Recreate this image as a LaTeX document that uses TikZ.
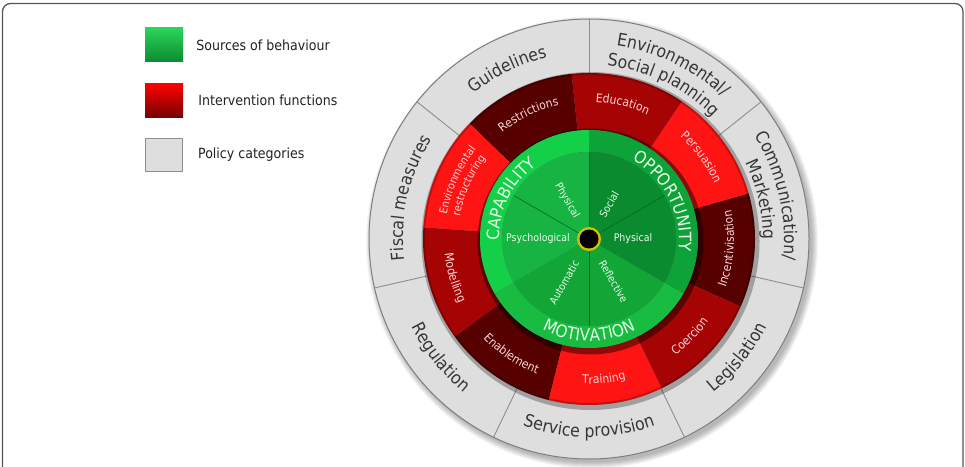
\documentclass[tikz,border=0pt]{standalone}
\usepackage{fontspec}
\setmainfont{DejaVu Sans}[FakeStretch=0.9]
\usepackage{tikz}
\usetikzlibrary{positioning,decorations.text}

\definecolor{gFrame}{HTML}{555555}
\definecolor{polFill}{HTML}{DEDEDE}
\definecolor{polEdge}{HTML}{7E7E7E}
\definecolor{polLine}{HTML}{8E8E8E}
\definecolor{polText}{HTML}{363636}
\definecolor{redBright}{HTML}{FF1414}
\definecolor{redMid}{HTML}{A60404}
\definecolor{redDark}{HTML}{560000}
\definecolor{redText}{HTML}{F6D6D6}
\definecolor{capBand}{HTML}{14CF48}
\definecolor{capIn}{HTML}{17B443}
\definecolor{oppBand}{HTML}{0EA338}
\definecolor{oppIn}{HTML}{0B8B30}
\definecolor{motBand}{HTML}{17BC40}
\definecolor{motIn}{HTML}{12A637}
\definecolor{greenLine}{HTML}{0A6426}
\definecolor{greenText}{HTML}{E8FBE8}
\definecolor{hubRing}{HTML}{D4BF00}
\definecolor{legText}{HTML}{222222}

\newcommand{\polFont}{\fontsize{17.5}{20}\selectfont}
\newcommand{\funFont}{\fontsize{12}{14}\selectfont}
\newcommand{\funFontSm}{\fontsize{11}{13}\selectfont}
\newcommand{\srcFont}{\fontsize{17}{19}\selectfont}
\newcommand{\compFont}{\fontsize{10.5}{12}\selectfont}
\newcommand{\legFont}{\fontsize{14}{16}\selectfont}

% annular sector: colour, start angle, end angle, inner r, outer r
\newcommand{\ringSector}[5]{%
  \fill[fill=#1] (#2:#4) arc[start angle=#2, end angle=#3, radius=#4]
    -- (#3:#5) arc[start angle=#3, end angle=#2, radius=#5] -- cycle;}

% text bent round the hub: centre angle, baseline radius, font, colour, text
% cw = read clockwise (upper half), ccw = read anticlockwise (lower half)
\newcommand{\cwText}[5]{%
  \path[decorate, decoration={text along path, text align=center,
        text color=#4, text={|#3|#5}}]
    ({#1+45}:#2) arc[start angle={#1+45}, end angle={#1-45}, radius=#2];}
\newcommand{\ccwText}[5]{%
  \path[decorate, decoration={text along path, text align=center,
        text color=#4, text={|#3|#5}}]
    ({#1-45}:#2) arc[start angle={#1-45}, end angle={#1+45}, radius=#2];}

\tikzset{
  wheel/.style={x=1pt, y=1pt, line cap=round, line join=round},
  frameLine/.style={draw=gFrame, line width=1.3pt, rounded corners=8pt},
  legendBox/.style={minimum width=38pt, minimum height=34pt, inner sep=0pt},
  legendText/.style={font=\legFont, text=legText, inner sep=0pt},
  polDivider/.style={draw=polLine, line width=0.9pt},
  greenDivider/.style={draw=greenLine, line width=0.6pt},
  compLabel/.style={font=\compFont, text=greenText, inner sep=0pt},
}

\begin{document}
\begin{tikzpicture}[wheel]

\useasboundingbox (0,0) rectangle (965,466);
\path[clip] (0,0) rectangle (965,466);
\fill[white] (0,0) rectangle (965,466);

% outer frame -- its bottom edge runs off the page
\draw[frameLine] (2.5,-20) rectangle (963,462.5);

% ============================================================
% LEGEND
% ============================================================
\node[legendBox, top color=capBand!90!white, bottom color=oppIn]
  (srcBox) at (164,421) {};
\node[legendText, right=13pt of srcBox] (srcText) {Sources of behaviour};

\node[legendBox, top color=red, bottom color=redMid!70!black]
  (funBox) at (164,365.5) {};
\node[legendText, right=15pt of funBox] (funText) {Intervention functions};

\node[legendBox, fill=polFill, draw=polLine, line width=0.8pt,
      minimum width=37pt, minimum height=33pt]
  (polBox) at (164,311) {};
\node[legendText, right=15pt of polBox] (polText) {Policy categories};

% ============================================================
% WHEEL -- centred on the hub
% ============================================================
\begin{scope}[shift={(589,227)}]

% soft shadow under the wheel
\foreach \k in {1,...,7}
  \fill[black, opacity=0.045] (3,-3.5) circle ({219+\k});

% policy ring
\fill[polFill] (0,0) circle (220);
\draw[polEdge, line width=1pt] (0,0) circle (220);
\foreach \k in {0,...,6}
  \draw[polDivider] ({90+\k*360/7}:166) -- ({90+\k*360/7}:220);

% intervention ring
\fill[black, opacity=0.28] (1.5,-2) circle (169);
\foreach \a/\col in {-24/redDark, 16/redBright, 56/redMid, 96/redDark,
                     136/redBright, 176/redMid, 216/redDark,
                     256/redBright, 296/redMid}
  \ringSector{\col}{\a}{\a+40}{109}{166};
\draw[black, opacity=0.22, line width=2pt] (0,0) circle (165);

% sources of behaviour
\fill[black, opacity=0.45] (1.5,-2.5) circle (113);
\ringSector{capBand}{90}{210}{87}{109}
\ringSector{motBand}{210}{330}{87}{109}
\ringSector{oppBand}{330}{450}{87}{109}
\fill[capIn] (0,0) -- (90:87) arc[start angle=90, end angle=210, radius=87] -- cycle;
\fill[motIn] (0,0) -- (210:87) arc[start angle=210, end angle=330, radius=87] -- cycle;
\fill[oppIn] (0,0) -- (330:87) arc[start angle=330, end angle=450, radius=87] -- cycle;
\foreach \a in {30,90,150,270}
  \draw[greenDivider] (0,0) -- (\a:87);

% hub
\fill[hubRing] (0,0) circle (12);
\fill[black] (0,0) circle (9.5);

% components
\node[compLabel, rotate=-60] (capPhys) at (120:44) {Physical};
\node[compLabel]             (capPsy)  at (180:51) {Psychological};
\node[compLabel, rotate=60]  (oppSoc)  at (60:40)  {Social};
\node[compLabel]             (oppPhys) at (0:44)   {Physical};
\node[compLabel, rotate=60]  (motAuto) at (240:50) {Automatic};
\node[compLabel, rotate=-60] (motRefl) at (300:49) {Reflective};

% sources
\cwText{153}{90}{\srcFont}{greenText}{CAPABILITY}
\cwText{27}{90}{\srcFont}{greenText}{OPPORTUNITY}
\ccwText{270}{102}{\srcFont}{greenText}{MOTIVATION}

% intervention functions
\ccwText{-4}{145}{\funFont}{redText}{Incentivisation}
\cwText{36}{137}{\funFont}{redText}{Persuasion}
\cwText{76}{137}{\funFont}{redText}{Education}
\cwText{116}{137}{\funFont}{redText}{Restrictions}
\cwText{156}{144}{\funFontSm}{redText}{Environmental}
\cwText{156}{131}{\funFontSm}{redText}{restructuring}
\ccwText{196}{145}{\funFont}{redText}{Modelling}
\ccwText{236}{145}{\funFont}{redText}{Enablement}
\ccwText{276}{145}{\funFont}{redText}{Training}
\ccwText{316}{145}{\funFont}{redText}{Coercion}

% policy categories
\cwText{115.7}{186}{\polFont}{polText}{Guidelines}
\cwText{64.3}{195}{\polFont}{polText}{Environmental/}
\cwText{64.3}{174}{\polFont}{polText}{Social planning}
\cwText{12.9}{195}{\polFont}{polText}{Communication/}
\cwText{12.9}{174}{\polFont}{polText}{Marketing}
\ccwText{321.4}{198}{\polFont}{polText}{Legislation}
\ccwText{270}{198}{\polFont}{polText}{Service provision}
\ccwText{218.6}{198}{\polFont}{polText}{Regulation}
\cwText{167.1}{186}{\polFont}{polText}{Fiscal measures}

\end{scope}

\end{tikzpicture}
\end{document}
